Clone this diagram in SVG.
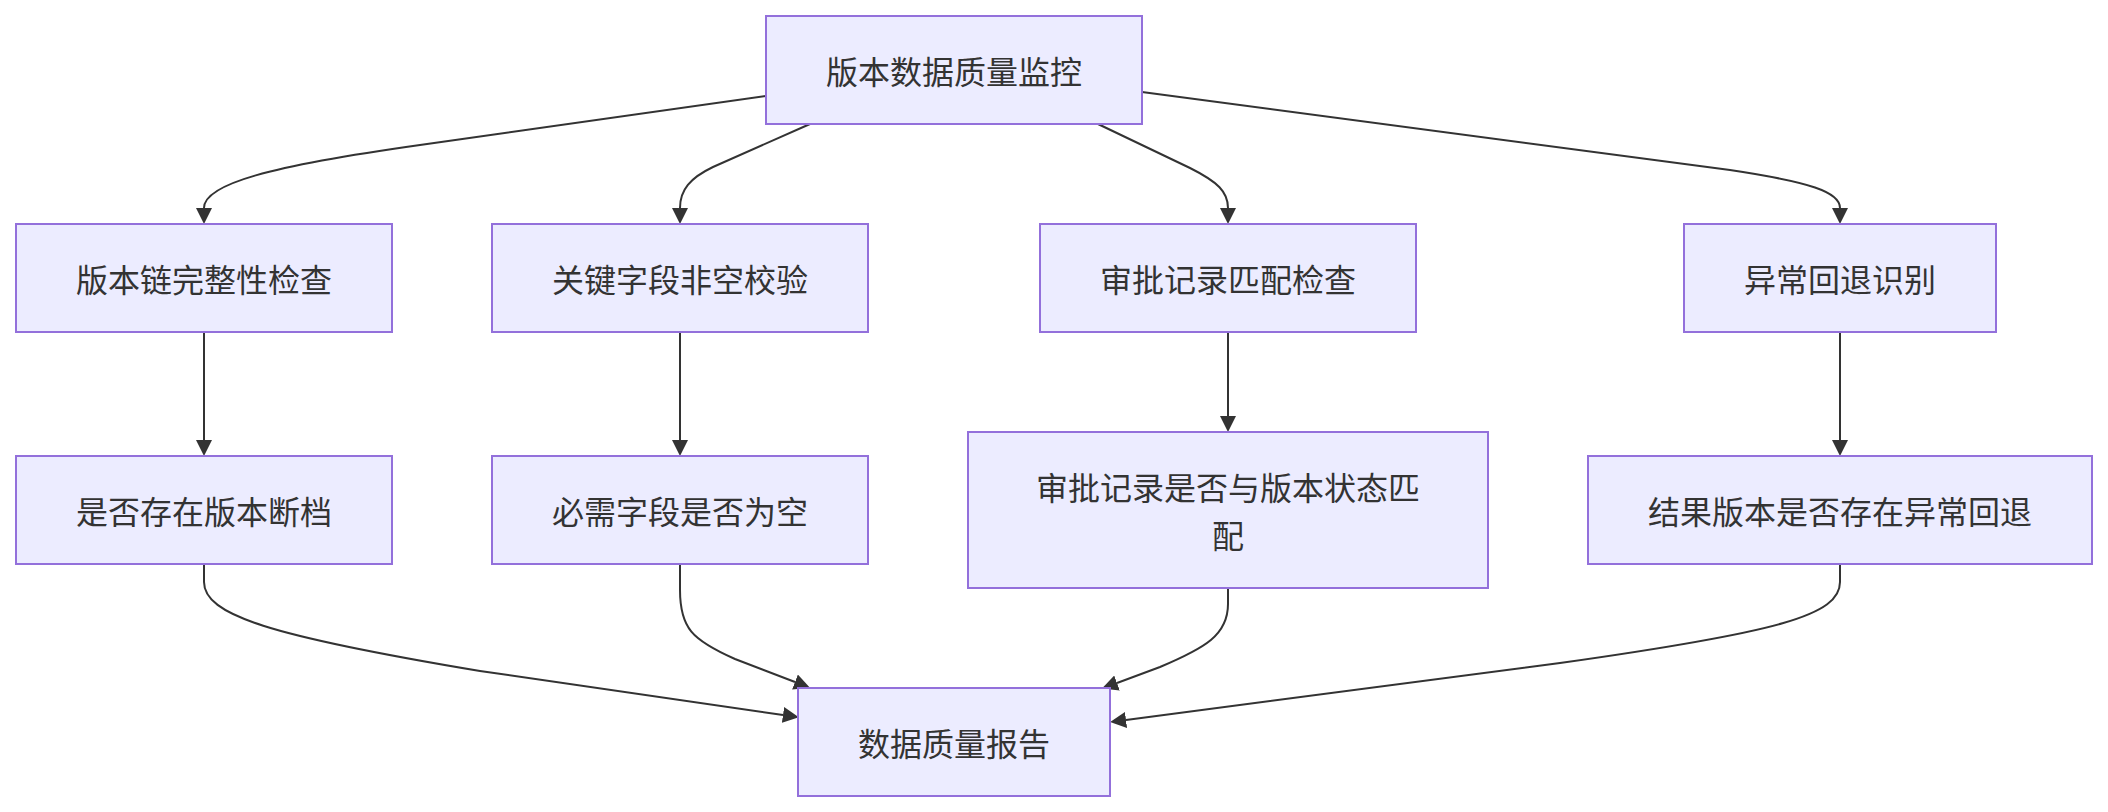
<svg xmlns="http://www.w3.org/2000/svg" width="2108" height="812" viewBox="0 0 2108 812">
<style>
.node rect{fill:#ECECFF;stroke:#9370DB;stroke-width:2}
.node text{font-family:"Noto Sans CJK SC","Liberation Sans",sans-serif;font-size:32px;fill:#333333;text-anchor:middle;dominant-baseline:central}
.edges path{fill:none;stroke:#333333;stroke-width:2}
</style>
<defs>
<marker id="arrow" markerUnits="userSpaceOnUse" viewBox="0 0 16 16" refX="0" refY="8" markerWidth="16" markerHeight="16" orient="auto">
<path d="M0,0 L16,8 L0,16 z" fill="#333333"/>
</marker>
</defs>
<rect width="2108" height="812" fill="#ffffff"/>
<g class="edges">
<path d="M766,96 L420,145 C270,166 204,184 204,208" marker-end="url(#arrow)"/>
<path d="M810,124 L713,167 C690,178 680,190 680,208" marker-end="url(#arrow)"/>
<path d="M1098,124 L1190,168 C1218,182 1228,192 1228,208" marker-end="url(#arrow)"/>
<path d="M1142,92 L1730,170 C1810,182 1840,192 1840,208" marker-end="url(#arrow)"/>
<path d="M204,332 L204,440" marker-end="url(#arrow)"/>
<path d="M680,332 L680,440" marker-end="url(#arrow)"/>
<path d="M1228,332 L1228,416" marker-end="url(#arrow)"/>
<path d="M1840,332 L1840,440" marker-end="url(#arrow)"/>
<path d="M204,564 L204,582 C204,615 270,636 480,671 L783,715" marker-end="url(#arrow)"/>
<path d="M680,564 L680,590 C680,628 692,640 735,659 L795,682" marker-end="url(#arrow)"/>
<path d="M1228,588 L1228,604 C1228,635 1205,648 1160,667 L1117,683" marker-end="url(#arrow)"/>
<path d="M1840,564 L1840,582 C1840,615 1780,632 1560,663 L1126,720" marker-end="url(#arrow)"/>
</g>
<g id="root" class="node"><rect x="766" y="16" width="376" height="108"/><text x="954" y="70">版本数据质量监控</text></g>
<g id="chain" class="node"><rect x="16" y="224" width="376" height="108"/><text x="204" y="278">版本链完整性检查</text></g>
<g id="fields" class="node"><rect x="492" y="224" width="376" height="108"/><text x="680" y="278">关键字段非空校验</text></g>
<g id="approval" class="node"><rect x="1040" y="224" width="376" height="108"/><text x="1228" y="278">审批记录匹配检查</text></g>
<g id="rollback" class="node"><rect x="1684" y="224" width="312" height="108"/><text x="1840" y="278">异常回退识别</text></g>
<g id="gap" class="node"><rect x="16" y="456" width="376" height="108"/><text x="204" y="510">是否存在版本断档</text></g>
<g id="empty" class="node"><rect x="492" y="456" width="376" height="108"/><text x="680" y="510">必需字段是否为空</text></g>
<g id="match" class="node"><rect x="968" y="432" width="520" height="156"/><text x="1228" y="486">审批记录是否与版本状态匹</text><text x="1228" y="534">配</text></g>
<g id="abnormal" class="node"><rect x="1588" y="456" width="504" height="108"/><text x="1840" y="510">结果版本是否存在异常回退</text></g>
<g id="report" class="node"><rect x="798" y="688" width="312" height="108"/><text x="954" y="742">数据质量报告</text></g>
</svg>
